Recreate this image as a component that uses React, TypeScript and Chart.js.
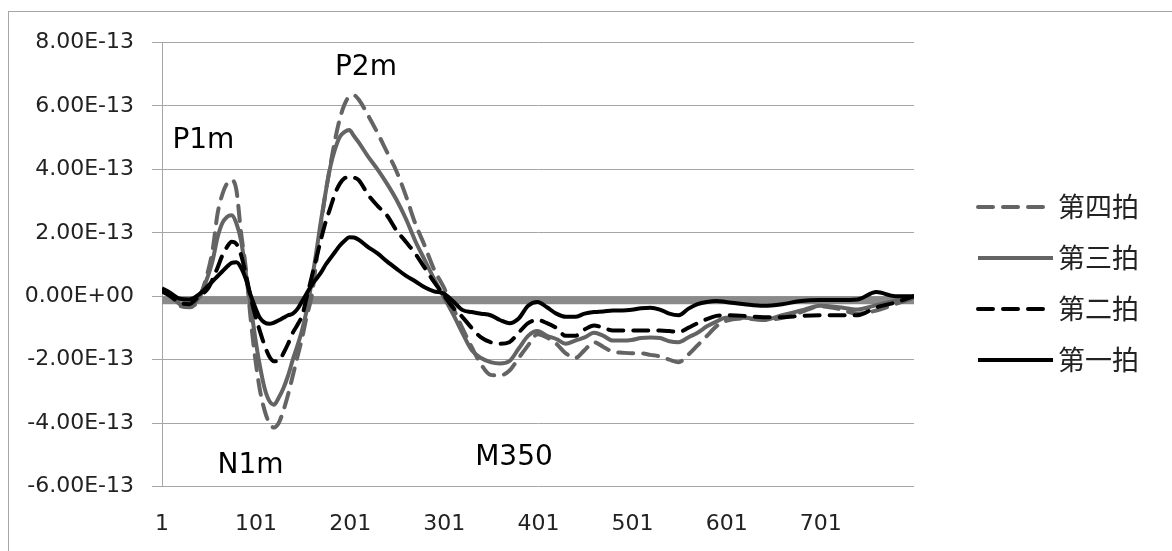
import React, { useEffect, useRef } from 'react';
import { Chart, registerables } from 'chart.js';

Chart.register(...registerables);

// sample positions (category index 1..800)
const xs = [
  1, 10, 20, 30, 40, 50, 55, 60, 65, 70,
  75, 80, 85, 90, 95, 100, 105, 110, 115, 120,
  125, 130, 135, 140, 145, 150, 155, 160, 165, 170,
  175, 180, 185, 190, 195, 200, 205, 210, 220, 230,
  240, 250, 260, 270, 280, 290, 300, 310, 320, 330,
  340, 350, 360, 370, 380, 390, 400, 410, 420, 430,
  440, 450, 460, 470, 480, 490, 500, 510, 520, 530,
  540, 550, 560, 570, 580, 590, 600, 620, 640, 660,
  680, 700, 720, 740, 760, 780, 800,
];

// values in units of 1E-13
const beat4 = [
  0.2, 0.0, -0.3, -0.35, -0.1, 0.8, 1.5, 2.6, 3.2, 3.55,
  3.66, 3.35, 2.0, 0.9, -0.65, -1.95, -2.95, -3.6, -4.0, -4.14,
  -4.0, -3.6, -3.1, -2.5, -1.9, -1.3, -0.6, 0.0, 1.1, 2.3,
  3.3, 4.15, 4.95, 5.6, 6.05, 6.3, 6.33, 6.2, 5.7, 5.15,
  4.55, 3.95, 3.18, 2.3, 1.6, 0.85, 0.3, -0.35, -1.0, -1.6,
  -2.15, -2.48, -2.5, -2.35, -1.95, -1.55, -1.2, -1.3, -1.5, -1.8,
  -1.95, -1.7, -1.45, -1.6, -1.75, -1.78, -1.8, -1.8, -1.85, -1.9,
  -2.0, -2.08, -1.85, -1.55, -1.25, -0.95, -0.78, -0.7, -0.75, -0.68,
  -0.5, -0.32, -0.4, -0.55, -0.45, -0.25, -0.05,
];
const beat3 = [
  0.2, 0.05, -0.25, -0.3, -0.05, 0.65, 1.15, 1.85, 2.3, 2.5,
  2.55, 2.3, 1.75, 0.75, -0.25, -1.3, -2.2, -2.9, -3.3, -3.42,
  -3.2, -2.9, -2.5, -2.0, -1.55, -1.05, -0.4, 0.45, 1.4, 2.4,
  3.3, 4.1, 4.65, 5.03, 5.18, 5.24, 5.05, 4.85, 4.4, 4.0,
  3.55, 3.05, 2.45, 1.75, 1.15, 0.55, 0.0, -0.55, -1.15, -1.7,
  -1.95, -2.08, -2.12, -2.05, -1.65, -1.25, -1.1, -1.25, -1.35, -1.5,
  -1.4, -1.3, -1.15, -1.25, -1.4, -1.4, -1.38, -1.32, -1.3, -1.32,
  -1.42, -1.45, -1.3, -1.15, -0.95, -0.8, -0.68, -0.68, -0.75, -0.6,
  -0.45, -0.3, -0.35, -0.42, -0.28, -0.15, -0.05,
];
const beat2 = [
  0.15, 0.0, -0.2, -0.25, 0.0, 0.25, 0.55, 0.9, 1.28, 1.55,
  1.72, 1.65, 1.3, 0.7, 0.0, -0.6, -1.1, -1.55, -1.9, -2.05,
  -2.05, -1.8, -1.5, -1.15, -0.9, -0.6, 0.0, 0.6, 1.2, 1.8,
  2.35, 2.8, 3.25, 3.55, 3.72, 3.76, 3.74, 3.66, 3.2, 2.85,
  2.55, 2.08, 1.72, 1.35, 0.9, 0.45, 0.05, -0.35, -0.65, -1.0,
  -1.3, -1.45, -1.5, -1.45, -1.15, -0.85, -0.75, -0.85, -1.0, -1.25,
  -1.25, -1.05, -0.92, -1.0, -1.08, -1.08, -1.08, -1.08, -1.08, -1.08,
  -1.1, -1.13, -1.0, -0.85, -0.72, -0.62, -0.6, -0.62, -0.66, -0.66,
  -0.62, -0.6, -0.6, -0.6, -0.35, -0.2, 0.0,
];
const beat1 = [
  0.25, 0.1, -0.08, -0.1, 0.05, 0.33, 0.48, 0.63, 0.78, 0.93,
  1.05, 1.07, 0.9, 0.55, 0.05, -0.35, -0.68, -0.83, -0.87, -0.83,
  -0.76, -0.68, -0.6, -0.55, -0.4, -0.15, 0.1, 0.35, 0.55, 0.75,
  1.0, 1.2, 1.4, 1.6, 1.75, 1.86, 1.85, 1.78, 1.55, 1.35,
  1.1, 0.87, 0.65, 0.47, 0.28, 0.15, 0.09, -0.15, -0.43, -0.5,
  -0.55, -0.6, -0.75, -0.85, -0.7, -0.3, -0.18, -0.35, -0.55, -0.65,
  -0.65, -0.55, -0.5, -0.48, -0.45, -0.45, -0.43, -0.38, -0.36, -0.42,
  -0.55, -0.6, -0.4, -0.25, -0.18, -0.15, -0.18, -0.25, -0.3, -0.25,
  -0.15, -0.12, -0.12, -0.1, 0.13, 0.0, 0.0,
];

const seriesLabels = ['第四拍', '第三拍', '第二拍', '第一拍'];
const baselineX = [1, 800];
const baselineY = [-0.13, -0.13];
const xTickValues = [1, 101, 201, 301, 401, 501, 601, 701];
const xMin = 1;
const xMax = 800;
const yMin = -6;
const yMax = 8;
const yStep = 2;

const annotations = [
  { text: 'P1m', x: 45, y: 4.68 },
  { text: 'P2m', x: 217.7, y: 6.98 },
  { text: 'N1m', x: 95, y: -5.59 },
  { text: 'M350', x: 375, y: -5.31 },
];

const GRAY = '#646464';
const BLACK = '#000000';
const GRID = '#a6a6a6';
const TEXT = '#222222';
const LATIN = '"DejaVu Sans", sans-serif';
const CJK = '"Noto Sans CJK SC", sans-serif';

function sci(v: number): string {
  const s = (v * 1e-13).toExponential(2);
  const [m, e] = s.split('e');
  const sign = e[0] === '-' ? '-' : '+';
  const d = e.replace(/[+-]/, '').padStart(2, '0');
  return `${m}E${sign}${d}`;
}

const toPts = (ys: number[]) => xs.map((x, i) => ({ x, y: ys[i] }));

const annotationPlugin = {
  id: 'textNotes',
  afterDatasetsDraw(chart: any) {
    const { ctx } = chart;
    const sx = chart.scales.x;
    const sy = chart.scales.y;
    ctx.save();
    ctx.fillStyle = '#000';
    ctx.font = `28px ${LATIN}`;
    ctx.textAlign = 'center';
    ctx.textBaseline = 'alphabetic';
    annotations.forEach((a) => {
      ctx.fillText(a.text, sx.getPixelForValue(a.x), sy.getPixelForValue(a.y));
    });
    ctx.restore();
  },
};

const LEGEND_OFFSET = 64;
const LEGEND_Y0 = 207;
const LEGEND_STEP = 51;
const LEGEND_LINE = 75;

const legendPlugin = {
  id: 'sideLegend',
  afterDraw(chart: any) {
    const { ctx, chartArea } = chart;
    const items = chart.data.datasets.filter((d: any) => seriesLabels.includes(d.label));
    ctx.save();
    items.forEach((ds: any, i: number) => {
      const y = LEGEND_Y0 + i * LEGEND_STEP;
      const x0 = chartArea.right + LEGEND_OFFSET;
      ctx.beginPath();
      ctx.setLineDash(ds.borderDash || []);
      ctx.lineCap = ds.borderCapStyle || 'butt';
      ctx.lineWidth = ds.borderWidth;
      ctx.strokeStyle = ds.borderColor;
      ctx.moveTo(x0, y);
      ctx.lineTo(x0 + LEGEND_LINE, y);
      ctx.stroke();
      ctx.setLineDash([]);
      ctx.fillStyle = TEXT;
      ctx.font = `27px ${CJK}`;
      ctx.textAlign = 'left';
      ctx.textBaseline = 'middle';
      ctx.fillText(ds.label, x0 + LEGEND_LINE + 5, y);
    });
    ctx.restore();
  },
};

export default function App() {
  const ref = useRef<HTMLCanvasElement>(null);

  useEffect(() => {
    if (!ref.current) return;
    const common = {
      pointRadius: 0,
      pointHoverRadius: 0,
      fill: false,
      borderWidth: 4,
      cubicInterpolationMode: 'monotone' as const,
    };
    const chart = new Chart(ref.current, {
      type: 'line',
      data: {
        datasets: [
          { ...common, label: seriesLabels[0], data: toPts(beat4), borderColor: GRAY, borderDash: [15, 10], borderCapStyle: 'round', order: 4 },
          { ...common, label: seriesLabels[1], data: toPts(beat3), borderColor: GRAY, order: 3 },
          { ...common, label: seriesLabels[2], data: toPts(beat2), borderColor: BLACK, borderDash: [15, 10], borderCapStyle: 'round', order: 2 },
          { ...common, label: seriesLabels[3], data: toPts(beat1), borderColor: BLACK, order: 1 },
          {
            label: '',
            data: baselineX.map((x, i) => ({ x, y: baselineY[i] })),
            borderColor: '#8a8a8a',
            borderWidth: 8,
            pointRadius: 0,
            fill: false,
            order: 10,
          },
        ],
      },
      options: {
        responsive: false,
        devicePixelRatio: 1,
        animation: false,
        events: [],
        layout: { padding: { top: 42.5, right: 258, bottom: 0, left: 0 } },
        plugins: {
          legend: { display: false },
          tooltip: { enabled: false },
        },
        scales: {
          x: {
            type: 'linear',
            min: xMin,
            max: xMax,
            grid: { display: false, drawTicks: false },
            border: { display: false },
            afterBuildTicks: (scale: any) => {
              scale.ticks = xTickValues.map((v) => ({ value: v }));
            },
            afterFit: (scale: any) => {
              scale.height = 64.5;
            },
            ticks: {
              autoSkip: false,
              maxRotation: 0,
              padding: 25,
              color: TEXT,
              font: { family: LATIN, size: 22 },
              callback: (v: any) => String(v),
            },
          },
          y: {
            type: 'linear',
            min: yMin,
            max: yMax,
            afterFit: (scale: any) => {
              scale.width = 162;
            },
            grid: { color: GRID, lineWidth: 1, drawTicks: true, tickLength: 10 },
            border: { display: true, color: GRID, width: 1 },
            ticks: {
              stepSize: yStep,
              padding: 18,
              color: TEXT,
              font: { family: LATIN, size: 22 },
              callback: (v: any) => sci(Number(v)),
            },
          },
        },
      },
      plugins: [annotationPlugin, legendPlugin],
    } as any);
    return () => chart.destroy();
  }, []);

  return (
    <div style={{ position: 'absolute', left: 0, top: 0, width: 1172, height: 551, background: '#fff' }}>
      <div
        style={{
          position: 'absolute',
          left: 8,
          top: 11,
          width: 1164,
          height: 540,
          boxSizing: 'border-box',
          borderTop: '1px solid #a6a6a6',
          borderLeft: '1px solid #a6a6a6',
        }}
      />
      <canvas ref={ref} width={1172} height={551} style={{ position: 'absolute', left: 0, top: 0 }} />
    </div>
  );
}
